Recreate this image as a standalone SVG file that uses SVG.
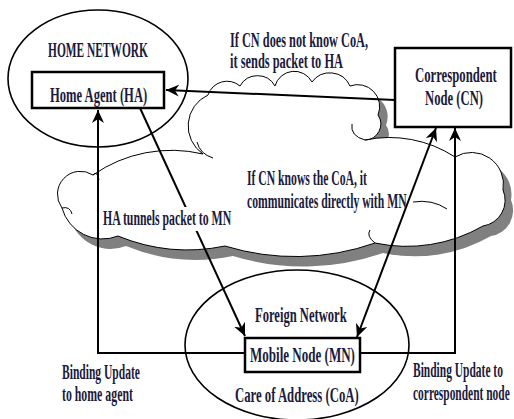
<svg xmlns="http://www.w3.org/2000/svg" width="514" height="419" viewBox="0 0 514 419">
<style>
text{font-family:"Liberation Serif","Times New Roman",serif;font-weight:bold;font-size:21px;fill:#1a1a3c}
.box{fill:#fff;stroke:#000;stroke-width:2.5}
.net{fill:none;stroke:#000;stroke-width:1.6}
.con{fill:none;stroke:#000;stroke-width:2}
.notch{fill:none;stroke:#000;stroke-width:1}
</style>
<defs>
<marker id="arr" markerUnits="userSpaceOnUse" markerWidth="14" markerHeight="12" refX="13" refY="6" orient="auto-start-reverse">
<path d="M0,0 L13,6 L0,12 L4,6 Z" fill="#000"/>
</marker>
<path id="cloudShape" d="M203,154 A34 34 0 0 1 208,95 A20 20 0 0 1 240,86 A20 20 0 0 1 275,86 A20 20 0 0 1 312,82 A22 22 0 0 1 350,86 A22 22 0 0 1 378,115 A16 16 0 0 1 365,140 A120 120 0 0 1 455,157 A32 32 0 0 1 503,190 A26 26 0 0 1 483,226 A153 153 0 0 1 375,243 A240 240 0 0 1 225,246 A183 183 0 0 1 118,236 A42 42 0 0 1 62,208 A23 23 0 0 1 93,175 A137 137 0 0 1 203,154 Z"/>
</defs>
<g id="cloud">
<use href="#cloudShape" transform="translate(8,10)" fill="#808080"/>
<use href="#cloudShape" fill="#fff" stroke="#000" stroke-width="1"/>
<path class="notch" d="M352,124 Q350,136 365,140"/>
<path class="notch" d="M413,202 Q432,199 447,209"/>
<path class="notch" d="M375,243 Q366,236 370,230"/>
<path class="notch" d="M197,142 Q200,154 213,158"/>
<path class="notch" d="M93,175 Q97,170 99,180"/>
<path class="notch" d="M62,208 Q70,206 72,214"/>
</g>
<g id="home-network">
<ellipse class="net" cx="98" cy="78.5" rx="90" ry="68.5"/>
<text transform="translate(48,57) scale(0.544,1)">HOME NETWORK</text>
</g>
<g id="foreign-network">
<ellipse class="net" cx="297" cy="345" rx="112" ry="75"/>
<text transform="translate(255,322) scale(0.600,1)">Foreign Network</text>
<text transform="translate(235,402) scale(0.607,1)">Care of Address (CoA)</text>
</g>
<g id="home-agent">
<rect class="box" x="32" y="72" width="132" height="36"/>
<text transform="translate(50,102) scale(0.600,1)">Home Agent (HA)</text>
</g>
<g id="correspondent-node">
<rect class="box" x="395" y="48" width="116" height="79"/>
<text transform="translate(415,82) scale(0.606,1)">Correspondent</text>
<text transform="translate(425,105) scale(0.603,1)">Node (CN)</text>
</g>
<g id="mobile-node">
<rect class="box" x="245" y="338" width="115" height="34"/>
<text transform="translate(250,362) scale(0.621,1)">Mobile Node (MN)</text>
</g>
<g id="connectors">
<path class="con" d="M395,100 L166,90" marker-end="url(#arr)"/>
<path class="con" d="M245,353 H98 V110" marker-end="url(#arr)"/>
<path class="con" d="M140,108 L245,336" marker-end="url(#arr)"/>
<path class="con" d="M357,337 L436,128" marker-start="url(#arr)" marker-end="url(#arr)"/>
<path class="con" d="M360,353 H455 V128" marker-end="url(#arr)"/>
</g>
<g id="labels">
<text transform="translate(230,47) scale(0.586,1)">If CN does not know CoA,</text>
<text transform="translate(230,68) scale(0.591,1)">it sends packet to HA</text>
<text transform="translate(247,185) scale(0.556,1)">If CN knows the CoA, it</text>
<text transform="translate(247,208) scale(0.556,1)">communicates directly with MN</text>
<rect x="101" y="207" width="133" height="24" fill="#fff"/>
<text transform="translate(103,225) scale(0.561,1)">HA tunnels packet to MN</text>
<text transform="translate(62,379) scale(0.550,1)">Binding Update</text>
<text transform="translate(62,401) scale(0.563,1)">to home agent</text>
<text transform="translate(413,377) scale(0.547,1)">Binding Update to</text>
<text transform="translate(413,400) scale(0.545,1)">correspondent node</text>
</g>
</svg>
